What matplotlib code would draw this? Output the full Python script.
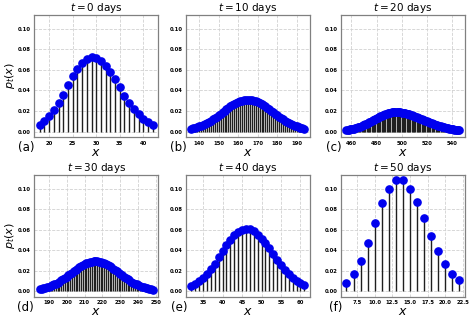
import numpy as np
import matplotlib
matplotlib.use("Agg")
import matplotlib.pyplot as plt
from matplotlib.ticker import MultipleLocator, FormatStrFormatter

###############################################################################
# Distributions p_t(x)
###############################################################################
days = [0, 10, 20, 30, 40, 50]
panel_tags = ['(a)', '(b)', '(c)', '(d)', '(e)', '(f)']
xstep = [5, 10, 20, 10, 5, 2.5]

x0 = list(range(18, 43))
p0 = [0.006, 0.010, 0.015, 0.021, 0.028, 0.036, 0.045, 0.054, 0.061, 0.067,
      0.071, 0.073, 0.072, 0.069, 0.064, 0.058, 0.051, 0.043, 0.035, 0.028,
      0.022, 0.017, 0.012, 0.009, 0.006]

x10 = list(range(136, 195))
p10 = [0.0026, 0.0030, 0.0036, 0.0042, 0.0049, 0.0056, 0.0065, 0.0074, 0.0084, 0.0095,
       0.0107, 0.0119, 0.0132, 0.0145, 0.0159, 0.0174, 0.0188, 0.0203, 0.0217, 0.0231,
       0.0244, 0.0257, 0.0268, 0.0279, 0.0288, 0.0296, 0.0302, 0.0306, 0.0309, 0.0310,
       0.0309, 0.0306, 0.0302, 0.0296, 0.0288, 0.0279, 0.0268, 0.0257, 0.0244, 0.0231,
       0.0217, 0.0203, 0.0188, 0.0174, 0.0159, 0.0145, 0.0132, 0.0119, 0.0107, 0.0095,
       0.0084, 0.0074, 0.0065, 0.0056, 0.0049, 0.0042, 0.0036, 0.0030, 0.0026]

x20 = list(range(456, 547))
p20 = [0.00137, 0.00156, 0.00178, 0.00202, 0.00228, 0.00257, 0.00289, 0.00323, 0.00360, 0.00400,
       0.00443, 0.00489, 0.00538, 0.00590, 0.00644, 0.00701, 0.00761, 0.00823, 0.00886, 0.00951,
       0.01017, 0.01085, 0.01152, 0.01220, 0.01287, 0.01354, 0.01418, 0.01481, 0.01541, 0.01598,
       0.01651, 0.01701, 0.01746, 0.01785, 0.01820, 0.01848, 0.01871, 0.01887, 0.01897, 0.01900,
       0.01898, 0.01892, 0.01882, 0.01869, 0.01852, 0.01831, 0.01806, 0.01778, 0.01747, 0.01714,
       0.01677, 0.01637, 0.01596, 0.01552, 0.01506, 0.01458, 0.01410, 0.01359, 0.01309, 0.01257,
       0.01205, 0.01152, 0.01100, 0.01048, 0.00996, 0.00945, 0.00895, 0.00845, 0.00797, 0.00750,
       0.00704, 0.00660, 0.00617, 0.00576, 0.00536, 0.00498, 0.00462, 0.00428, 0.00395, 0.00364,
       0.00335, 0.00307, 0.00281, 0.00257, 0.00234, 0.00214, 0.00194, 0.00176, 0.00159, 0.00144,
       0.00129]

x30 = list(range(185, 249))
p30 = [0.00202, 0.00240, 0.00282, 0.00331, 0.00385, 0.00446, 0.00515, 0.00590, 0.00672, 0.00761,
       0.00858, 0.00961, 0.01071, 0.01187, 0.01308, 0.01434, 0.01563, 0.01694, 0.01826, 0.01957,
       0.02086, 0.02212, 0.02332, 0.02444, 0.02549, 0.02642, 0.02724, 0.02793, 0.02848, 0.02888,
       0.02912, 0.02920, 0.02912, 0.02888, 0.02848, 0.02793, 0.02724, 0.02642, 0.02549, 0.02444,
       0.02332, 0.02212, 0.02086, 0.01957, 0.01826, 0.01694, 0.01563, 0.01434, 0.01308, 0.01187,
       0.01071, 0.00961, 0.00858, 0.00761, 0.00672, 0.00590, 0.00515, 0.00446, 0.00385, 0.00331,
       0.00282, 0.00240, 0.00202, 0.00170]

x40 = list(range(32, 62))
p40 = [0.005, 0.007, 0.010, 0.013, 0.017, 0.022, 0.027, 0.033, 0.039, 0.045,
       0.050, 0.055, 0.058, 0.060, 0.061, 0.061, 0.059, 0.055, 0.051, 0.047,
       0.042, 0.036, 0.031, 0.026, 0.021, 0.017, 0.013, 0.010, 0.008, 0.006]

x50 = list(range(6, 23))
p50 = [0.008, 0.017, 0.030, 0.047, 0.067, 0.086, 0.100, 0.108, 0.108, 0.100,
       0.087, 0.071, 0.054, 0.039, 0.027, 0.017, 0.011]

XS = [x0, x10, x20, x30, x40, x50]
PS = [p0, p10, p20, p30, p40, p50]

###############################################################################
# Figure
###############################################################################
fig = plt.figure(figsize=(4.74, 3.21), dpi=100)

lefts = [0.072, 0.392, 0.719]
bottoms = [0.573, 0.075]
w, h = 0.262, 0.380

axes = []
for i in range(6):
    r, c = divmod(i, 3)
    if i == 0:
        ax = fig.add_axes([lefts[c], bottoms[r], w, h])
    else:
        ax = fig.add_axes([lefts[c], bottoms[r], w, h], sharey=axes[0])
    axes.append(ax)

for i, ax in enumerate(axes):
    ml, sl, bl = ax.stem(XS[i], PS[i], linefmt='k-', markerfmt='bo', basefmt=' ')
    plt.setp(sl, linewidth=1.0, color='0.12')
    plt.setp(ml, markersize=5.2, color='#0000ee', zorder=3)
    ax.grid(True, linestyle='--', color='0.82', linewidth=0.6)
    ax.set_axisbelow(True)
    for s in ax.spines.values():
        s.set_color('0.5')
        s.set_linewidth(0.9)
    ax.xaxis.set_major_locator(MultipleLocator(xstep[i]))
    ax.tick_params(labelsize=3.8, length=0, pad=2.5)
    ax.tick_params(axis='y', labelleft=True)
    ax.set_title('$t = %d$ days' % days[i], fontsize=7.5, pad=3)
    ax.set_xlabel('$x$', fontsize=9, labelpad=0)
    ax.text(0.01 if i % 3 else 0.0, -0.085, panel_tags[i], transform=ax.transAxes,
            ha='right', va='center', fontsize=8.5)
    if i % 3 == 0:
        ax.set_ylabel('$p_t(x)$', fontsize=8, labelpad=0.5)

axes[0].set_yticks([0.0, 0.02, 0.04, 0.06, 0.08, 0.10])
axes[0].yaxis.set_major_formatter(FormatStrFormatter('%.2f'))
for ax in axes:
    for lab in ax.get_xticklabels() + ax.get_yticklabels():
        lab.set_fontweight('bold')

plt.savefig('out.png', dpi=100)
